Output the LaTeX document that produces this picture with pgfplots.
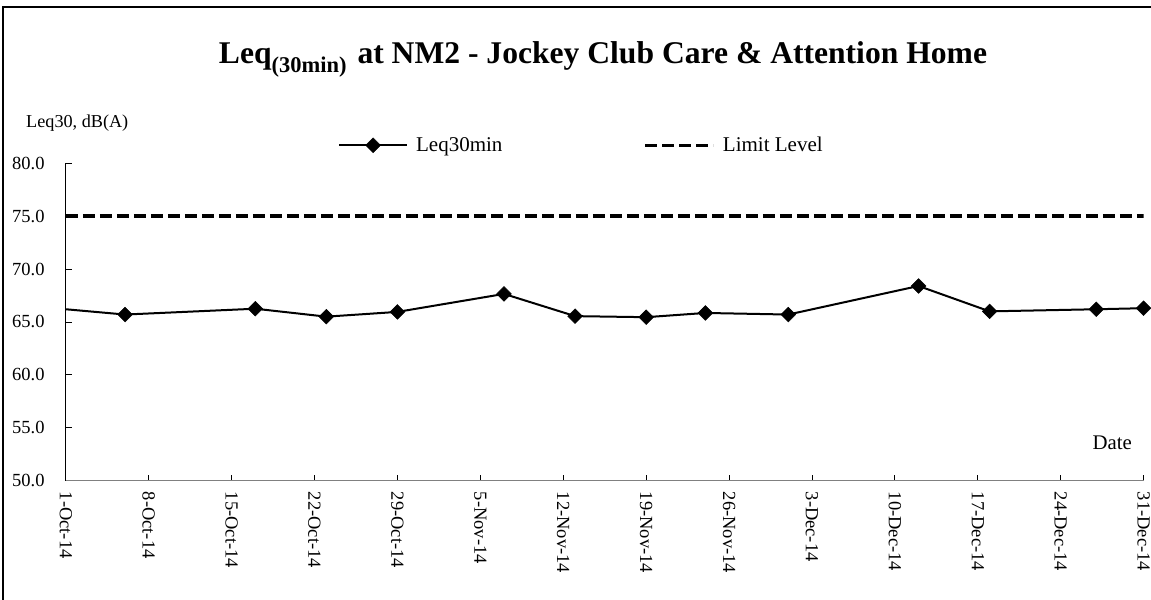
\documentclass[border=0pt]{standalone}
\usepackage{fontspec}
\setmainfont{Liberation Serif}
\usepackage{pgfplots}
\pgfplotsset{compat=1.18}
\begin{document}
\begin{tikzpicture}
\useasboundingbox (0,0) rectangle (1151bp,600bp);
\draw[line width=1.2bp] (3bp,0) -- (3bp,593bp) -- (1151bp,593bp);
\node[anchor=base, inner sep=0pt, font=\bfseries\fontsize{31.6bp}{31.6bp}\selectfont] at (603bp,536.7bp) {Leq\raisebox{-9bp}{\fontsize{22.5bp}{22.5bp}\selectfont (30min)}\hspace{3bp} at NM2 - Jockey Club Care \& Attention Home};
\node[anchor=base west, inner sep=0pt, font=\fontsize{18.2bp}{18.2bp}\selectfont] at (26bp,472bp) {Leq30, dB(A)};
\begin{axis}[
  scale only axis, width=1077.9bp, height=317.3bp,
  anchor=south west, at={(65.8bp,119.4bp)},
  xmin=0, xmax=91, ymin=50, ymax=80,
  enlargelimits=false,
  axis x line=bottom, axis y line=left,
  axis line style={-},
  x axis line style={draw=gray, line width=1.5bp},
  y axis line style={draw=black, line width=1bp},
  tick align=inside, major tick length=6bp,
  tick style={black, line width=0.8bp},
  xtick={0,7,14,21,28,35,42,49,56,63,70,77,84,91},
  xticklabels={1-Oct-14,8-Oct-14,15-Oct-14,22-Oct-14,29-Oct-14,5-Nov-14,12-Nov-14,19-Nov-14,26-Nov-14,3-Dec-14,10-Dec-14,17-Dec-14,24-Dec-14,31-Dec-14},
  ytick={50,55,60,65,70,75,80},
  /pgf/number format/assume math mode=true,
  yticklabel style={/pgf/number format/fixed, /pgf/number format/fixed zerofill, /pgf/number format/precision=1, anchor=east, inner xsep=21bp, inner ysep=0pt},
  tick label style={font=\fontsize{18.5bp}{18.5bp}\selectfont},
  xticklabel style={rotate=-90, anchor=west, inner xsep=11bp, inner ysep=0pt},
  clip mode=individual,
  legend columns=2,
  legend style={draw=none, fill=none, at={(0.2525,1.0567)}, anchor=west, inner sep=0pt,
    font=\fontsize{21bp}{21bp}\selectfont,
    /tikz/every odd column/.append style={column sep=6bp},
    /tikz/every even column/.append style={column sep=139bp}},
  legend image code/.code={\draw[mark repeat=2,mark phase=2] plot coordinates {(0bp,0bp) (34bp,0bp) (68bp,0bp)};},
]
\addplot[black, line width=2bp, forget plot] coordinates {(0,66.2) (5,65.7)};
\addplot[black, line width=2bp, mark=square*, mark size=5.2bp,
  mark options={rotate=45, solid, line width=0.5bp}] coordinates {
  (5,65.7) (16,66.25) (22,65.5) (28,65.95) (37,67.65) (43,65.55)
  (49,65.45) (54,65.85) (61,65.7) (72,68.4) (78,66.0) (87,66.2) (91,66.3)
};
\addlegendentry{Leq30min}
\addplot[black, line width=3.5bp, dash pattern=on 12bp off 5bp] coordinates {(0,75) (91,75)};
\addlegendentry{Limit Level}
\end{axis}
\node[anchor=base west, inner sep=0pt, font=\fontsize{20.8bp}{20.8bp}\selectfont] at (1092.3bp,150bp) {Date};
\end{tikzpicture}
\end{document}
